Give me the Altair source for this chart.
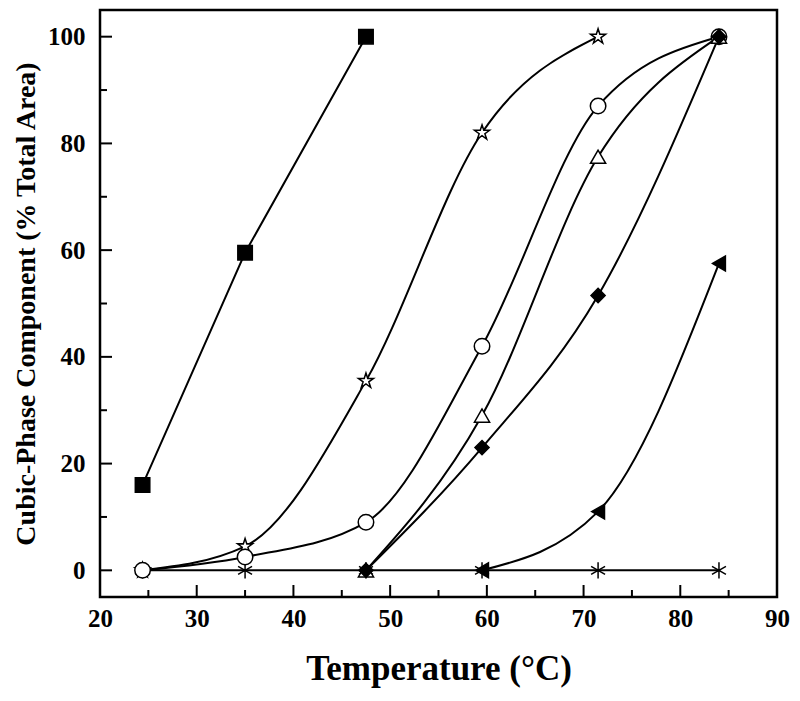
import altair as alt
import pandas as pd

# ---- data ----
square_x = [24.4, 35.0, 47.5]
square_y = [16.0, 59.5, 100.0]

star_x = [24.4, 35.0, 47.5, 59.5, 71.5]
star_y = [0.0, 4.5, 35.5, 82.0, 100.0]

circle_x = [24.4, 35.0, 47.5, 59.5, 71.5, 84.0]
circle_y = [0.0, 2.5, 9.0, 42.0, 87.0, 100.0]

triangle_x = [47.5, 59.5, 71.5, 84.0]
triangle_y = [0.0, 29.0, 77.5, 100.0]

ltriangle_x = [59.5, 71.5, 84.0]
ltriangle_y = [0.0, 11.0, 57.5]

asterisk_x = [24.4, 35.0, 47.5, 59.5, 71.5, 84.0]
asterisk_y = [0.0, 0.0, 0.0, 0.0, 0.0, 0.0]

diamond_x = [47.5, 59.5, 71.5, 84.0]
diamond_y = [0.0, 23.0, 51.5, 100.0]

x_major = [20, 30, 40, 50, 60, 70, 80, 90]
x_minor = [25, 35, 45, 55, 65, 75, 85]
y_major = [0, 20, 40, 60, 80, 100]
y_minor = [10, 30, 50, 70, 90]

STAR = ("M0,-1L0.2234,-0.3074L0.9511,-0.309L0.3614,0.1174L0.5878,0.809L0,0.38"
        "L-0.5878,0.809L-0.3614,0.1174L-0.9511,-0.309L-0.2234,-0.3074Z")
AST = "M0,-1L0,1M-0.866,-0.5L0.866,0.5M-0.866,0.5L0.866,-0.5"

series = [
    ("asterisk", asterisk_x, asterisk_y),
    ("star", star_x, star_y),
    ("circle", circle_x, circle_y),
    ("triangle", triangle_x, triangle_y),
    ("ltriangle", ltriangle_x, ltriangle_y),
    ("square", square_x, square_y),
    ("diamond", diamond_x, diamond_y),
]
rows = []
for name, xs, ys in series:
    for x, y in zip(xs, ys):
        rows.append({"s": name, "T": x, "v": y})
df = pd.DataFrame(rows)

names = ["asterisk", "star", "circle", "triangle", "ltriangle", "square", "diamond"]
shapes = [AST, STAR, "circle", "triangle-up", "triangle-left", "square", "diamond"]
fills = ["white", "white", "white", "white", "black", "black", "black"]
sizes = [260, 200, 170, 190, 210, 170, 300]

W, H = 677, 587
FONT = "Liberation Serif"
xsc = alt.Scale(domain=[20, 90], nice=False, zero=False)
ysc = alt.Scale(domain=[-5, 105], nice=False, zero=False)

x_axis = alt.Axis(values=x_major, ticks=False, domain=False, grid=False,
                  labelPadding=9, labelFont=FONT, labelFontSize=25, labelFontWeight="bold",
                  labelColor="black",
                  title="Temperature (°C)", titleFont=FONT, titleFontSize=35,
                  titleFontWeight="bold", titleColor="black", titlePadding=20,
                  orient="bottom", labelFlush=False)
y_axis = alt.Axis(values=y_major, ticks=False, domain=False, grid=False,
                  labelPadding=15, labelFont=FONT, labelFontSize=25, labelFontWeight="bold",
                  labelColor="black",
                  title="Cubic-Phase Component (% Total Area)", titleFont=FONT,
                  titleFontSize=28, titleFontWeight="bold", titleColor="black",
                  titlePadding=7, orient="left", labelFlush=False)

X = alt.X("T:Q", scale=xsc, axis=x_axis, title="Temperature (°C)")
Y = alt.Y("v:Q", scale=ysc, axis=y_axis, title="Cubic-Phase Component (% Total Area)")

base = alt.Chart(df)

curves = base.transform_filter(alt.datum.s != "square").mark_line(
    interpolate="monotone", color="black", strokeWidth=2
).encode(x=X, y=Y, detail="s:N")

straight = base.transform_filter(alt.datum.s == "square").mark_line(
    color="black", strokeWidth=2
).encode(x=X, y=Y)

points = base.mark_point(filled=False, stroke="black", strokeWidth=1.5, opacity=1).encode(
    x=X, y=Y,
    shape=alt.Shape("s:N", scale=alt.Scale(domain=names, range=shapes), legend=None),
    fill=alt.Fill("s:N", scale=alt.Scale(domain=names, range=fills), legend=None),
    size=alt.Size("s:N", scale=alt.Scale(domain=names, range=sizes), legend=None),
)

# inward tick marks (axis decorations), positioned through the same scales
def xticks(vals, length):
    return alt.Chart(pd.DataFrame({"T": vals})).mark_rule(color="black", strokeWidth=2).encode(
        x=X, y=alt.value(H), y2=alt.value(H - length),
    )

def yticks(vals, length):
    return alt.Chart(pd.DataFrame({"v": vals})).mark_rule(color="black", strokeWidth=2).encode(
        y=Y, x=alt.value(0), x2=alt.value(length),
    )

chart = alt.layer(
    curves, straight, points,
    xticks(x_major, 12), xticks(x_minor, 7), yticks(y_major, 12), yticks(y_minor, 7),
).resolve_scale(shape="independent", fill="independent", size="independent").properties(
    width=W, height=H,
    autosize=alt.AutoSizeParams(type="none"),
    padding={"left": 92, "top": 2, "right": 14, "bottom": 95},
    background="white",
).configure_view(stroke="black", strokeWidth=2.5)

chart.save("out.html", embed_options={"renderer": "svg", "actions": False})
